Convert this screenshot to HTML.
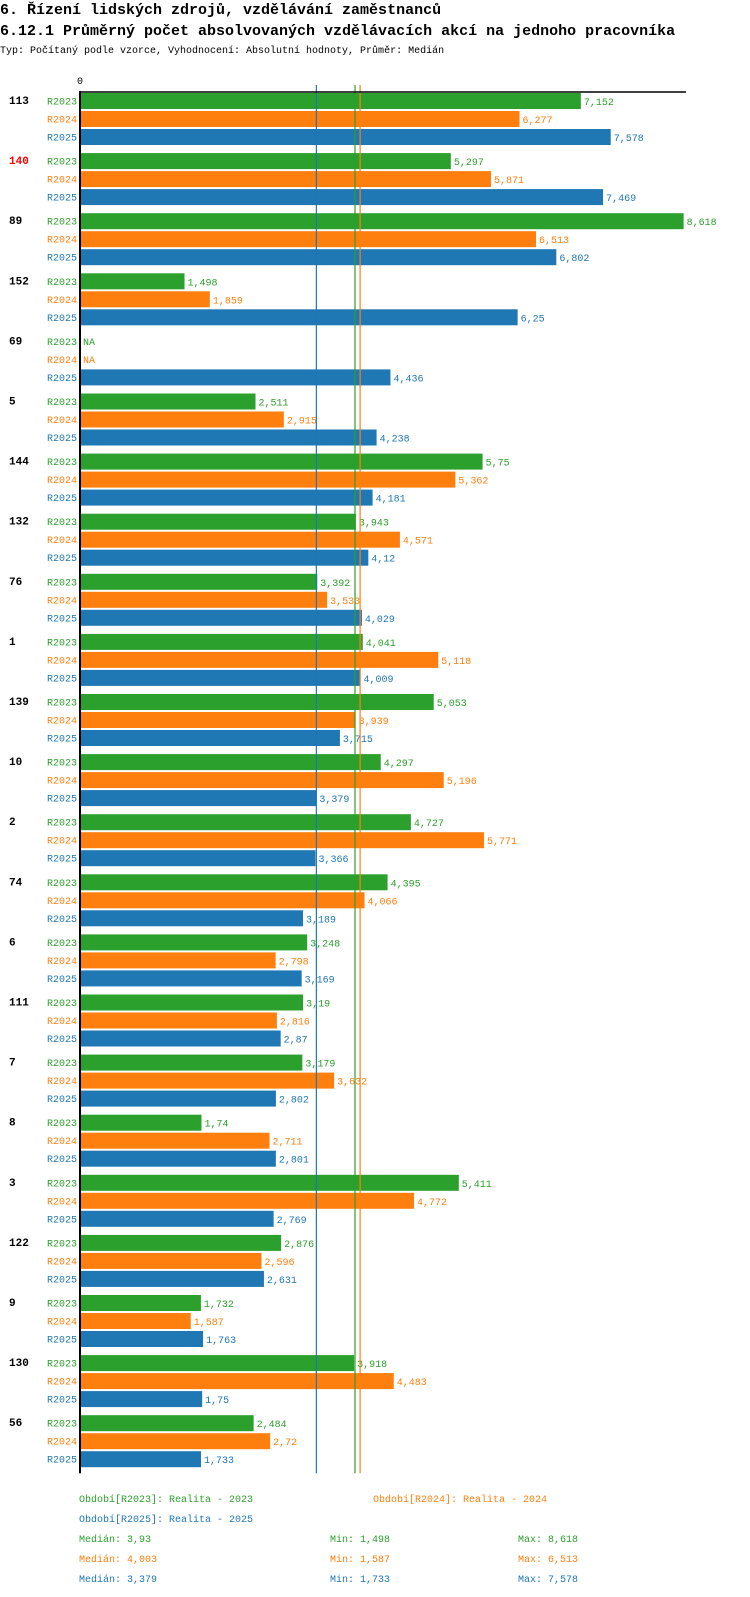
<!DOCTYPE html>
<html><head><meta charset="utf-8"><style>
body{margin:0;background:#fff;width:750px;height:1592px;overflow:hidden;font-family:"Liberation Mono",monospace}
svg text{font-family:"Liberation Mono","DejaVu Sans Mono",monospace}
</style></head><body>
<svg id="c" width="750" height="1592" xmlns="http://www.w3.org/2000/svg">
<text x="0" y="14" font-size="15" font-weight="bold">6. Řízení lidských zdrojů, vzdělávání zaměstnanců</text>
<text x="0" y="35" font-size="15" font-weight="bold">6.12.1 Průměrný počet absolvovaných vzdělávacích akcí na jednoho pracovníka</text>
<text x="0" y="53" font-size="10">Typ: Počítaný podle vzorce, Vyhodnocení: Absolutní hodnoty, Průměr: Medián</text>
<text x="77" y="84" font-size="10">0</text>
</svg>
<script>
const categories=["113","140","89","152","69","5","144","132","76","1","139","10","2","74","6","111","7","8","3","122","9","130","56"];
const highlighted=["140"];
const seriesNames=["R2023","R2024","R2025"];
const colors=["#2ca02c","#ff7f0e","#1f77b4"];
const v2023=[7.152,5.297,8.618,1.498,null,2.511,5.75,3.943,3.392,4.041,5.053,4.297,4.727,4.395,3.248,3.19,3.179,1.74,5.411,2.876,1.732,3.918,2.484];
const v2024=[6.277,5.871,6.513,1.859,null,2.915,5.362,4.571,3.533,5.118,3.939,5.196,5.771,4.066,2.798,2.816,3.632,2.711,4.772,2.596,1.587,4.483,2.72];
const v2025=[7.578,7.469,6.802,6.25,4.436,4.238,4.181,4.12,4.029,4.009,3.715,3.379,3.366,3.189,3.169,2.87,2.802,2.801,2.769,2.631,1.763,1.75,1.733];
const medians=[3.93,4.003,3.379];
const mins=[1.498,1.587,1.733];
const maxs=[8.618,6.513,7.578];
const legendText=["Období[R2023]: Realita - 2023","Období[R2024]: Realita - 2024","Období[R2025]: Realita - 2025"];
const series=[v2023,v2024,v2025];
const svg=document.getElementById('c');
const NS="http://www.w3.org/2000/svg";
const x=v=>79.5+v*70.1;
const X0=81;
const fmt=v=>String(v).replace('.',',');
function mk(t,a,txt){const e=document.createElementNS(NS,t);for(const k in a)e.setAttribute(k,a[k]);if(txt!=null)e.textContent=txt;svg.appendChild(e);return e;}
const top0=93,gs=60.1,rs=18;
categories.forEach((c,i)=>{
  const gy=top0+i*gs;
  const t=mk('text',{x:9,y:gy+11,'font-size':11,'font-weight':'bold',fill:highlighted.includes(c)?'#ff0000':'#000'},c);
  
  
  series.forEach((s,j)=>{
    const y=gy+j*rs;
    const l=mk('text',{x:77,y:y+11.5,'font-size':10,fill:colors[j],'text-anchor':'end'},seriesNames[j]);
    
    
    const v=s[i];
    if(v==null){
      const n=mk('text',{x:83,y:y+11.5,'font-size':10,fill:colors[j]},'NA');
      
      
      return;
    }
    const b=mk('rect',{x:X0,y:y,width:Math.max(0,x(v)-X0),height:16,fill:colors[j]});
    
    
    const vl=mk('text',{x:x(v)+3,y:y+12,'font-size':10,fill:colors[j]},fmt(v));
    
    
  });
});
const bottom=top0+categories.length*gs-2;
medians.forEach((m,j)=>{
  const l=mk('line',{x1:x(m),x2:x(m),y1:85,y2:bottom,stroke:colors[j],'stroke-width':1.2});
  
  
});
const ax=mk('line',{x1:80,x2:80,y1:91,y2:bottom,stroke:'#000','stroke-width':2});


const axt=mk('line',{x1:79,x2:686,y1:92,y2:92,stroke:'#000','stroke-width':1.5});


const lp=[[79,1502],[373,1502],[79,1522]];
legendText.forEach((t,j)=>{
  const e=mk('text',{x:lp[j][0],y:lp[j][1],'font-size':10,fill:colors[j]},t);
  
  
});
[0,1,2].forEach(j=>{
  const y=1542+j*20;
  const a=mk('text',{x:79,y:y,'font-size':10,fill:colors[j]},'Medián: '+fmt(medians[j]));
  
  
  const b=mk('text',{x:330,y:y,'font-size':10,fill:colors[j]},'Min: '+fmt(mins[j]));
  
  
  const d=mk('text',{x:518,y:y,'font-size':10,fill:colors[j]},'Max: '+fmt(maxs[j]));
  
  
});
</script>
</body></html>
